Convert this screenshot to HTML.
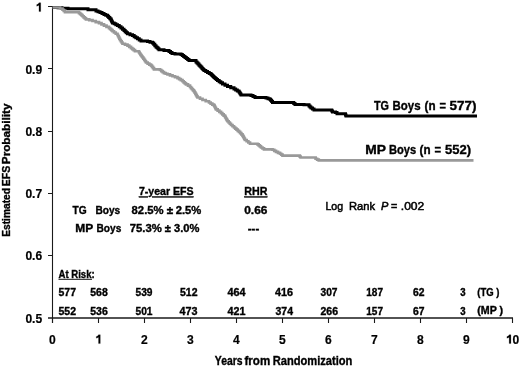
<!DOCTYPE html>
<html><head><meta charset="utf-8"><style>
html,body{margin:0;padding:0;background:#fff;width:520px;height:366px;overflow:hidden}
svg{display:block;filter:grayscale(1)}
text{font-family:"Liberation Sans",sans-serif;fill:#000}
.b{font-weight:bold;stroke:#000;stroke-width:0.35px}
.r{stroke:#000;stroke-width:0.5px}
.t{font-weight:bold;fill:#000;stroke:#000;stroke-width:0.2px}
</style></head><body>
<svg width="520" height="366" viewBox="0 0 520 366">
<g stroke="#1a1a1a" fill="none">
<line x1="52.5" y1="6" x2="52.5" y2="323" stroke-width="1.1"/>
<line x1="48" y1="6.5" x2="53" y2="6.5" stroke-width="1"/>
<line x1="48" y1="68.5" x2="53" y2="68.5" stroke-width="1"/>
<line x1="48" y1="131.5" x2="53" y2="131.5" stroke-width="1"/>
<line x1="48" y1="193.5" x2="53" y2="193.5" stroke-width="1"/>
<line x1="48" y1="255.5" x2="53" y2="255.5" stroke-width="1"/>
<line x1="48" y1="318" x2="513" y2="318" stroke-width="1.6"/>
<line x1="52.5" y1="318" x2="52.5" y2="323" stroke-width="1.1"/>
<line x1="98.5" y1="318" x2="98.5" y2="323" stroke-width="1.1"/>
<line x1="144.5" y1="318" x2="144.5" y2="323" stroke-width="1.1"/>
<line x1="190.5" y1="318" x2="190.5" y2="323" stroke-width="1.1"/>
<line x1="236.5" y1="318" x2="236.5" y2="323" stroke-width="1.1"/>
<line x1="282.5" y1="318" x2="282.5" y2="323" stroke-width="1.1"/>
<line x1="328.5" y1="318" x2="328.5" y2="323" stroke-width="1.1"/>
<line x1="374.5" y1="318" x2="374.5" y2="323" stroke-width="1.1"/>
<line x1="420.5" y1="318" x2="420.5" y2="323" stroke-width="1.1"/>
<line x1="466.5" y1="318" x2="466.5" y2="323" stroke-width="1.1"/>
<line x1="512.5" y1="318" x2="512.5" y2="323" stroke-width="1.1"/>
</g>
<polyline points="52.50,7.60 58.00,7.60 58.00,7.80 62.00,7.80 62.00,8.20 68.00,8.20 68.00,8.70 85.00,8.70 85.00,8.80 88.00,8.80 88.00,9.80 96.00,9.80 96.00,11.00 98.00,11.00 98.00,11.75 100.00,11.75 100.00,12.50 102.00,12.50 102.00,13.45 104.00,13.45 104.00,14.40 105.75,14.40 105.75,15.35 107.50,15.35 107.50,16.30 108.67,16.30 108.67,17.53 109.83,17.53 109.83,18.77 111.00,18.77 111.00,20.00 111.50,20.00 111.50,21.00 112.00,21.00 112.00,22.00 112.50,22.00 112.50,23.00 114.17,23.00 114.17,23.87 115.83,23.87 115.83,24.73 117.50,24.73 117.50,25.60 119.25,25.60 119.25,26.85 121.00,26.85 121.00,28.10 122.50,28.10 122.50,29.35 124.00,29.35 124.00,30.60 125.17,30.60 125.17,31.65 126.33,31.65 126.33,32.70 127.50,32.70 127.50,33.75 130.00,33.75 130.00,34.67 132.50,34.67 132.50,35.60 134.17,35.60 134.17,36.65 135.83,36.65 135.83,37.70 137.50,37.70 137.50,38.75 139.25,38.75 139.25,39.88 141.00,39.88 141.00,41.00 147.50,41.00 147.50,41.50 150.00,41.50 150.00,42.30 152.50,42.30 152.50,43.10 153.67,43.10 153.67,44.37 154.83,44.37 154.83,45.63 156.00,45.63 156.00,46.90 157.00,46.90 157.00,47.85 158.00,47.85 158.00,48.80 159.00,48.80 159.00,49.75 164.00,49.75 164.00,50.50 169.00,50.50 169.00,51.50 170.50,51.50 170.50,52.50 172.00,52.50 172.00,53.50 175.00,53.50 175.00,54.00 181.00,54.00 181.00,54.60 182.33,54.60 182.33,55.57 183.67,55.57 183.67,56.53 185.00,56.53 185.00,57.50 186.33,57.50 186.33,58.53 187.67,58.53 187.67,59.57 189.00,59.57 189.00,60.60 196.00,60.60 196.00,61.90 197.00,61.90 197.00,62.99 198.00,62.99 198.00,64.08 199.00,64.08 199.00,65.16 200.00,65.16 200.00,66.25 201.00,66.25 201.00,67.34 202.00,67.34 202.00,68.42 203.00,68.42 203.00,69.51 204.00,69.51 204.00,70.60 205.75,70.60 205.75,71.55 207.50,71.55 207.50,72.50 209.25,72.50 209.25,73.45 211.00,73.45 211.00,74.40 212.00,74.40 212.00,75.43 213.00,75.43 213.00,76.47 214.00,76.47 214.00,77.50 215.17,77.50 215.17,78.53 216.33,78.53 216.33,79.57 217.50,79.57 217.50,80.60 219.17,80.60 219.17,81.73 220.83,81.73 220.83,82.87 222.50,82.87 222.50,84.00 225.00,84.00 225.00,85.25 227.50,85.25 227.50,86.50 230.75,86.50 230.75,87.75 234.00,87.75 234.00,89.00 235.67,89.00 235.67,89.97 237.33,89.97 237.33,90.93 239.00,90.93 239.00,91.90 239.67,91.90 239.67,92.93 240.33,92.93 240.33,93.97 241.00,93.97 241.00,95.00 251.00,95.00 251.00,95.60 253.00,95.60 253.00,96.55 255.00,96.55 255.00,97.50 266.00,97.50 266.00,98.10 268.00,98.10 268.00,98.75 270.00,98.75 270.00,99.40 270.83,99.40 270.83,100.43 271.67,100.43 271.67,101.47 272.50,101.47 272.50,102.50 292.50,102.50 293.75,102.50 293.75,103.45 295.00,103.45 295.00,104.40 304.00,104.40 304.00,104.75 309.00,104.75 309.00,106.00 310.00,106.00 310.00,107.05 311.00,107.05 311.00,108.10 312.50,108.10 312.50,109.05 314.00,109.05 314.00,110.00 331.00,110.00 331.75,110.00 331.75,110.95 332.50,110.95 332.50,111.90 335.50,111.90 335.50,112.50 337.00,112.50 337.00,113.75 345.00,113.75 345.50,113.75 345.50,114.88 346.00,114.88 346.00,116.00 477.00,116.00" fill="none" stroke="#000" stroke-width="3" stroke-linejoin="miter"/>
<polyline points="52.50,7.50 60.00,7.50 60.00,8.50 62.50,8.50 62.50,9.75 63.75,9.75 63.75,10.97 65.00,10.97 65.00,12.20 76.00,12.20 79.00,12.20 79.00,13.10 80.17,13.10 80.17,14.15 81.33,14.15 81.33,15.20 82.50,15.20 82.50,16.25 83.67,16.25 83.67,17.30 84.83,17.30 84.83,18.35 86.00,18.35 86.00,19.40 89.25,19.40 89.25,20.20 92.50,20.20 92.50,21.00 95.75,21.00 95.75,22.05 99.00,22.05 99.00,23.10 101.50,23.10 101.50,24.35 104.00,24.35 104.00,25.60 106.50,25.60 106.50,26.85 109.00,26.85 109.00,28.10 110.17,28.10 110.17,29.15 111.33,29.15 111.33,30.20 112.50,30.20 112.50,31.25 114.00,31.25 114.00,32.50 115.75,32.50 115.75,33.75 117.50,33.75 117.50,35.00 118.12,35.00 118.12,36.25 118.75,36.25 118.75,37.50 119.38,37.50 119.38,38.75 120.00,38.75 120.00,40.00 120.83,40.00 120.83,41.25 121.67,41.25 121.67,42.50 122.50,42.50 122.50,43.75 125.00,43.75 125.00,44.67 127.50,44.67 127.50,45.60 129.25,45.60 129.25,46.85 131.00,46.85 131.00,48.10 132.33,48.10 132.33,49.15 133.67,49.15 133.67,50.20 135.00,50.20 135.00,51.25 139.00,51.25 139.00,52.50 139.67,52.50 139.67,53.50 140.33,53.50 140.33,54.50 141.00,54.50 141.00,55.50 141.75,55.50 141.75,56.50 142.50,56.50 142.50,57.50 143.38,57.50 143.38,58.75 144.25,58.75 144.25,60.00 145.12,60.00 145.12,61.25 146.00,61.25 146.00,62.50 147.67,62.50 147.67,63.53 149.33,63.53 149.33,64.57 151.00,64.57 151.00,65.60 152.00,65.60 152.00,66.87 153.00,66.87 153.00,68.13 154.00,68.13 154.00,69.40 160.00,69.40 160.00,70.00 161.33,70.00 161.33,71.03 162.67,71.03 162.67,72.07 164.00,72.07 164.00,73.10 165.75,73.10 165.75,73.75 167.50,73.75 167.50,74.40 170.00,74.40 170.00,75.33 172.50,75.33 172.50,76.25 175.00,76.25 175.00,77.17 177.50,77.17 177.50,78.10 179.17,78.10 179.17,79.15 180.83,79.15 180.83,80.20 182.50,80.20 182.50,81.25 183.67,81.25 183.67,82.30 184.83,82.30 184.83,83.35 186.00,83.35 186.00,84.40 188.00,84.40 188.00,85.70 190.00,85.70 190.00,87.00 191.00,87.00 191.00,88.12 192.00,88.12 192.00,89.25 193.00,89.25 193.00,90.38 194.00,90.38 194.00,91.50 194.70,91.50 194.70,92.70 195.40,92.70 195.40,93.90 196.10,93.90 196.10,95.10 196.80,95.10 196.80,96.30 197.50,96.30 197.50,97.50 200.00,97.50 200.00,98.75 202.50,98.75 202.50,100.00 205.75,100.00 205.75,101.25 209.00,101.25 209.00,102.50 210.67,102.50 210.67,103.53 212.33,103.53 212.33,104.57 214.00,104.57 214.00,105.60 214.67,105.60 214.67,106.87 215.33,106.87 215.33,108.13 216.00,108.13 216.00,109.40 217.67,109.40 217.67,110.63 219.33,110.63 219.33,111.87 221.00,111.87 221.00,113.10 222.33,113.10 222.33,114.37 223.67,114.37 223.67,115.63 225.00,115.63 225.00,116.90 225.62,116.90 225.62,117.99 226.25,117.99 226.25,119.08 226.88,119.08 226.88,120.16 227.50,120.16 227.50,121.25 228.67,121.25 228.67,122.50 229.83,122.50 229.83,123.75 231.00,123.75 231.00,125.00 232.50,125.00 232.50,126.25 234.00,126.25 234.00,127.50 235.25,127.50 235.25,128.60 236.50,128.60 236.50,129.70 237.75,129.70 237.75,130.80 239.00,130.80 239.00,131.90 240.17,131.90 240.17,133.13 241.33,133.13 241.33,134.37 242.50,134.37 242.50,135.60 243.12,135.60 243.12,136.70 243.75,136.70 243.75,137.80 244.38,137.80 244.38,138.90 245.00,138.90 245.00,140.00 246.67,140.00 246.67,141.25 248.33,141.25 248.33,142.50 250.00,142.50 250.00,143.75 257.50,143.75 257.50,144.40 258.67,144.40 258.67,145.43 259.83,145.43 259.83,146.47 261.00,146.47 261.00,147.50 262.50,147.50 262.50,148.45 264.00,148.45 264.00,149.40 272.50,149.40 272.50,149.75 274.25,149.75 274.25,150.82 276.00,150.82 276.00,151.90 278.00,151.90 278.00,152.82 280.00,152.82 280.00,153.75 281.25,153.75 281.25,154.68 282.50,154.68 282.50,155.60 299.00,155.60 299.80,155.60 299.80,156.55 300.60,156.55 300.60,157.50 313.75,157.50 315.60,157.50 315.60,158.75 317.18,158.75 317.18,159.57 318.75,159.57 318.75,160.40 473.50,160.40" fill="none" stroke="#999" stroke-width="2.7" stroke-linejoin="miter"/>
<path class="t" d="M890 0H590V1010Q470 900 210 850V1100Q360 1140 470 1230Q560 1310 590 1409H890Z" transform="translate(35.476,11.600) scale(0.005903,-0.006348)" style="stroke-width:31.5"/>
<text class="t" transform="translate(42.20,73.80) scale(0.930,1)" font-size="13.0" text-anchor="end">0.9</text>
<text class="t" transform="translate(42.20,136.00) scale(0.930,1)" font-size="13.0" text-anchor="end">0.8</text>
<text class="t" transform="translate(42.20,198.20) scale(0.930,1)" font-size="13.0" text-anchor="end">0.7</text>
<text class="t" transform="translate(42.20,260.40) scale(0.930,1)" font-size="13.0" text-anchor="end">0.6</text>
<text class="t" transform="translate(42.20,322.60) scale(0.930,1)" font-size="13.0" text-anchor="end">0.5</text>
<text class="t" transform="translate(52.40,343.60) scale(0.930,1)" font-size="13.0" text-anchor="middle">0</text>
<path class="t" d="M890 0H590V1010Q470 900 210 850V1100Q360 1140 470 1230Q560 1310 590 1409H890Z" transform="translate(95.038,343.600) scale(0.005903,-0.006348)" style="stroke-width:31.5"/>
<text class="t" transform="translate(144.40,343.60) scale(0.930,1)" font-size="13.0" text-anchor="middle">2</text>
<text class="t" transform="translate(190.40,343.60) scale(0.930,1)" font-size="13.0" text-anchor="middle">3</text>
<text class="t" transform="translate(236.40,343.60) scale(0.930,1)" font-size="13.0" text-anchor="middle">4</text>
<text class="t" transform="translate(282.40,343.60) scale(0.930,1)" font-size="13.0" text-anchor="middle">5</text>
<text class="t" transform="translate(328.40,343.60) scale(0.930,1)" font-size="13.0" text-anchor="middle">6</text>
<text class="t" transform="translate(374.40,343.60) scale(0.930,1)" font-size="13.0" text-anchor="middle">7</text>
<text class="t" transform="translate(420.40,343.60) scale(0.930,1)" font-size="13.0" text-anchor="middle">8</text>
<text class="t" transform="translate(466.40,343.60) scale(0.930,1)" font-size="13.0" text-anchor="middle">9</text>
<path class="t" d="M890 0H590V1010Q470 900 210 850V1100Q360 1140 470 1230Q560 1310 590 1409H890Z" transform="translate(505.676,343.600) scale(0.005903,-0.006348)" style="stroke-width:31.5"/>
<text class="t" transform="translate(512.40,343.60) scale(0.930,1)" font-size="13.0" text-anchor="start">0</text>
<text class="b" x="214.80" y="365.00" font-size="12.00" textLength="27.70" lengthAdjust="spacingAndGlyphs">Years</text>
<text class="b" x="244.50" y="365.00" font-size="12.00" textLength="25.70" lengthAdjust="spacingAndGlyphs">from</text>
<text class="b" x="272.70" y="365.00" font-size="12.00" textLength="79.70" lengthAdjust="spacingAndGlyphs">Randomization</text>
<text class="b" transform="translate(9.8,236.40) rotate(-90)" x="-0.4" y="0" font-size="10.2" textLength="48.80" lengthAdjust="spacingAndGlyphs">Estimated</text>
<text class="b" transform="translate(9.8,185.90) rotate(-90)" x="-0.4" y="0" font-size="10.2" textLength="20.50" lengthAdjust="spacingAndGlyphs">EFS</text>
<text class="b" transform="translate(9.8,163.80) rotate(-90)" x="-0.4" y="0" font-size="10.2" textLength="60.60" lengthAdjust="spacingAndGlyphs">Probability</text>
<text class="b" x="374.00" y="110.10" font-size="12.00" textLength="15.00" lengthAdjust="spacingAndGlyphs">TG</text>
<text class="b" x="392.50" y="110.10" font-size="12.00" textLength="28.00" lengthAdjust="spacingAndGlyphs">Boys</text>
<text class="b" x="424.50" y="110.10" font-size="12.00" textLength="11.00" lengthAdjust="spacingAndGlyphs">(n</text>
<text class="b" x="439.50" y="110.10" font-size="12.00" textLength="6.50" lengthAdjust="spacingAndGlyphs">=</text>
<text class="b" x="449.50" y="110.10" font-size="12.00" textLength="27.00" lengthAdjust="spacingAndGlyphs">577)</text>
<text class="b" x="365.30" y="154.10" font-size="12.00" textLength="20.70" lengthAdjust="spacingAndGlyphs">MP</text>
<text class="b" x="389.00" y="154.10" font-size="12.00" textLength="27.10" lengthAdjust="spacingAndGlyphs">Boys</text>
<text class="b" x="419.50" y="154.10" font-size="12.00" textLength="11.00" lengthAdjust="spacingAndGlyphs">(n</text>
<text class="b" x="434.50" y="154.10" font-size="12.00" textLength="6.60" lengthAdjust="spacingAndGlyphs">=</text>
<text class="b" x="445.10" y="154.10" font-size="12.00" textLength="26.00" lengthAdjust="spacingAndGlyphs">552)</text>
<text class="b" x="138.90" y="195.40" font-size="10.50" textLength="54.70" lengthAdjust="spacingAndGlyphs" text-decoration="underline">7-year EFS</text>
<text class="b" x="244.25" y="195.40" font-size="10.50" textLength="23.15" lengthAdjust="spacingAndGlyphs" text-decoration="underline">RHR</text>
<text class="b" x="72.60" y="213.90" font-size="10.50" textLength="14.15" lengthAdjust="spacingAndGlyphs">TG</text>
<text class="b" x="95.40" y="213.90" font-size="10.50" textLength="24.80" lengthAdjust="spacingAndGlyphs">Boys</text>
<text class="b" x="131.60" y="213.90" font-size="10.50" textLength="32.00" lengthAdjust="spacingAndGlyphs">82.5%</text>
<text class="b" x="166.70" y="213.90" font-size="10.50" textLength="6.40" lengthAdjust="spacingAndGlyphs">±</text>
<text class="b" x="175.70" y="213.90" font-size="10.50" textLength="25.60" lengthAdjust="spacingAndGlyphs">2.5%</text>
<text class="b" x="244.25" y="213.90" font-size="10.50" textLength="23.15" lengthAdjust="spacingAndGlyphs">0.66</text>
<text class="b" x="75.30" y="232.30" font-size="10.50" textLength="17.95" lengthAdjust="spacingAndGlyphs">MP</text>
<text class="b" x="96.50" y="232.30" font-size="10.50" textLength="24.80" lengthAdjust="spacingAndGlyphs">Boys</text>
<text class="b" x="129.70" y="232.30" font-size="10.50" textLength="32.10" lengthAdjust="spacingAndGlyphs">75.3%</text>
<text class="b" x="164.80" y="232.30" font-size="10.50" textLength="6.10" lengthAdjust="spacingAndGlyphs">±</text>
<text class="b" x="174.00" y="232.30" font-size="10.50" textLength="25.40" lengthAdjust="spacingAndGlyphs">3.0%</text>
<text class="b" x="247.80" y="231.80" font-size="10.50" textLength="11.40" lengthAdjust="spacingAndGlyphs">---</text>
<text class="r" x="325.40" y="209.80" font-size="11.00" textLength="17.70" lengthAdjust="spacingAndGlyphs">Log</text>
<text class="r" x="349.00" y="209.80" font-size="11.00" textLength="26.10" lengthAdjust="spacingAndGlyphs">Rank</text>
<text class="r" x="381.0" y="209.8" font-size="11" font-style="italic">P</text>
<text class="r" x="391.00" y="209.50" font-size="10.00" textLength="6.30" lengthAdjust="spacingAndGlyphs">=</text>
<text class="r" x="400.80" y="209.80" font-size="11.00" textLength="23.50" lengthAdjust="spacingAndGlyphs">.002</text>
<text class="b" x="58.5" y="277.8" font-size="10.2" textLength="36.2" lengthAdjust="spacingAndGlyphs">At Risk:</text>
<line x1="58.5" y1="279.3" x2="92" y2="279.3" stroke="#111" stroke-width="1"/>
<text class="b" x="58.50" y="295.7" font-size="10.2" textLength="17.50" lengthAdjust="spacingAndGlyphs">577</text>
<text class="b" x="90.25" y="295.7" font-size="10.2" textLength="17.50" lengthAdjust="spacingAndGlyphs">568</text>
<text class="b" x="135.50" y="295.7" font-size="10.2" textLength="17.00" lengthAdjust="spacingAndGlyphs">539</text>
<text class="b" x="180.00" y="295.7" font-size="10.2" textLength="17.50" lengthAdjust="spacingAndGlyphs">512</text>
<text class="b" x="227.50" y="295.7" font-size="10.2" textLength="18.00" lengthAdjust="spacingAndGlyphs">464</text>
<text class="b" x="275.00" y="295.7" font-size="10.2" textLength="18.00" lengthAdjust="spacingAndGlyphs">416</text>
<text class="b" x="320.50" y="295.7" font-size="10.2" textLength="17.00" lengthAdjust="spacingAndGlyphs">307</text>
<text class="b" x="366.25" y="295.7" font-size="10.2" textLength="16.75" lengthAdjust="spacingAndGlyphs">187</text>
<text class="b" x="413.00" y="295.7" font-size="10.2" textLength="11.50" lengthAdjust="spacingAndGlyphs">62</text>
<text class="b" x="460.25" y="295.7" font-size="10.2" textLength="5.35" lengthAdjust="spacingAndGlyphs">3</text>
<text class="b" x="58.50" y="314.7" font-size="10.2" textLength="17.50" lengthAdjust="spacingAndGlyphs">552</text>
<text class="b" x="90.25" y="314.7" font-size="10.2" textLength="17.50" lengthAdjust="spacingAndGlyphs">536</text>
<text class="b" x="135.50" y="314.7" font-size="10.2" textLength="17.00" lengthAdjust="spacingAndGlyphs">501</text>
<text class="b" x="179.50" y="314.7" font-size="10.2" textLength="18.00" lengthAdjust="spacingAndGlyphs">473</text>
<text class="b" x="227.50" y="314.7" font-size="10.2" textLength="18.00" lengthAdjust="spacingAndGlyphs">421</text>
<text class="b" x="275.50" y="314.7" font-size="10.2" textLength="17.50" lengthAdjust="spacingAndGlyphs">374</text>
<text class="b" x="320.50" y="314.7" font-size="10.2" textLength="17.50" lengthAdjust="spacingAndGlyphs">266</text>
<text class="b" x="366.25" y="314.7" font-size="10.2" textLength="16.75" lengthAdjust="spacingAndGlyphs">157</text>
<text class="b" x="413.00" y="314.7" font-size="10.2" textLength="11.50" lengthAdjust="spacingAndGlyphs">67</text>
<text class="b" x="460.25" y="314.7" font-size="10.2" textLength="5.35" lengthAdjust="spacingAndGlyphs">3</text>
<text class="b" x="477.3" y="296.1" font-size="10.2" textLength="22.1" lengthAdjust="spacingAndGlyphs">(TG )</text>
<text class="b" x="477.3" y="314.4" font-size="10.2" textLength="25.8" lengthAdjust="spacingAndGlyphs">(MP )</text>
</svg></body></html>
